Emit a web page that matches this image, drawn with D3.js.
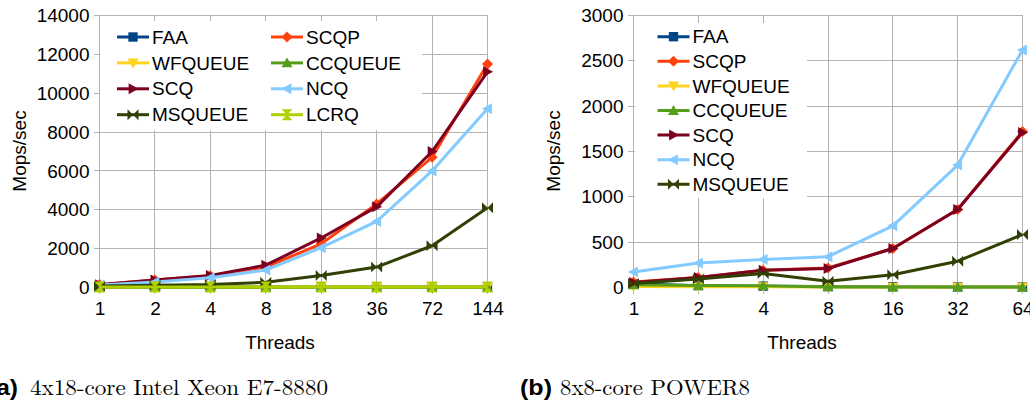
<!DOCTYPE html>
<html>
<head>
<meta charset="utf-8">
<script src="https://cdn.jsdelivr.net/npm/d3@7"></script>
<style>
  body { margin: 0; background: #fff; }
  svg { display: block; }
</style>
</head>
<body>
<svg id="chart" width="1030" height="403" font-family="Liberation Sans, Arial, sans-serif"></svg>
<script>
// ---------- DATA ----------
const seriesNamesA = ["FAA", "SCQP", "WFQUEUE", "CCQUEUE", "SCQ", "NCQ", "MSQUEUE", "LCRQ"];
const threadsA = ["1", "2", "4", "8", "18", "36", "72", "144"];
const faaA      = [30, 25, 25, 25, 25, 25, 25, 25];
const scqpA     = [150, 380, 600, 1050, 2250, 4300, 6700, 11500];
const wfqueueA  = [20, 20, 20, 20, 20, 20, 20, 20];
const ccqueueA  = [20, 15, 15, 15, 15, 15, 15, 15];
const scqA      = [140, 380, 620, 1150, 2550, 4150, 7000, 11100];
const ncqA      = [130, 280, 500, 900, 2050, 3400, 6000, 9200];
const msqueueA  = [80, 110, 150, 270, 620, 1050, 2150, 4100];
const lcrqA     = [30, 30, 30, 30, 30, 30, 30, 30];
const yTicksA   = [0, 2000, 4000, 6000, 8000, 10000, 12000, 14000];

const seriesNamesB = ["FAA", "SCQP", "WFQUEUE", "CCQUEUE", "SCQ", "NCQ", "MSQUEUE"];
const threadsB = ["1", "2", "4", "8", "16", "32", "64"];
const faaB      = [40, 20, 15, 10, 8, 6, 5];
const scqpB     = [60, 110, 190, 215, 430, 860, 1720];
const wfqueueB  = [10, 8, 8, 5, 5, 5, 5];
const ccqueueB  = [30, 22, 20, 6, 5, 5, 5];
const scqB      = [55, 110, 190, 210, 430, 860, 1710];
const ncqB      = [170, 270, 310, 340, 680, 1350, 2620];
const msqueueB  = [45, 95, 155, 70, 140, 290, 585];
const yTicksB   = [0, 500, 1000, 1500, 2000, 2500, 3000];

const captionA = "4x18-core Intel Xeon E7-8880";
const captionB = "8x8-core POWER8";

// ---------- STYLE ----------
const colors = {
  FAA: "#004586", SCQP: "#ff420e", WFQUEUE: "#ffd320", CCQUEUE: "#579d1c",
  SCQ: "#7e0021", NCQ: "#83caff", MSQUEUE: "#314004", LCRQ: "#aecf00"
};
const gridColor = "#b3b3b3";

function markerPath(name, s) {
  const h = s / 2;
  switch (name) {
    case "FAA": return `M${-h*0.85},${-h*0.85}H${h*0.85}V${h*0.85}H${-h*0.85}Z`;
    case "SCQP": return `M0,${-h}L${h},0L0,${h}L${-h},0Z`;
    case "WFQUEUE": return `M${-h},${-h*0.8}L${h},${-h*0.8}L0,${h}Z`;
    case "CCQUEUE": return `M${-h},${h*0.8}L${h},${h*0.8}L0,${-h}Z`;
    case "SCQ": return `M${-h*0.8},${-h}L${h},0L${-h*0.8},${h}Z`;
    case "NCQ": return `M${h*0.8},${-h}L${-h},0L${h*0.8},${h}Z`;
    case "MSQUEUE": return `M${-h},${-h}L0,0L${-h},${h}Z M${h},${-h}L0,0L${h},${h}Z`;
    case "LCRQ": return `M${-h},${-h}L${h},${-h}L0,0Z M${-h},${h}L${h},${h}L0,0Z`;
  }
}

const svg = d3.select("#chart");
svg.append("rect").attr("width", 1030).attr("height", 403).attr("fill", "#fff");

function drawChart(cfg) {
  const g = svg.append("g");
  const x = d3.scalePoint().domain(cfg.cats).range(cfg.xRange);
  const y = d3.scaleLinear().domain([0, d3.max(cfg.yTicks)]).range(cfg.yRange);
  const [x0, x1] = cfg.xRange, [y0, y1] = cfg.yRange;

  // grid
  g.append("g").selectAll("line").data(cfg.yTicks).join("line")
    .attr("x1", x0 - 6).attr("x2", x1).attr("y1", d => y(d)).attr("y2", d => y(d))
    .attr("stroke", gridColor).attr("stroke-width", 1).attr("shape-rendering", "crispEdges");
  g.append("g").selectAll("line").data(cfg.cats).join("line")
    .attr("x1", d => x(d)).attr("x2", d => x(d)).attr("y1", y1).attr("y2", y0 + 6)
    .attr("stroke", gridColor).attr("stroke-width", 1).attr("shape-rendering", "crispEdges");

  // axes labels
  const ax = d3.axisLeft(y).tickValues(cfg.yTicks).tickFormat(d3.format("d")).tickSize(0).tickPadding(10);
  const ga = g.append("g").attr("transform", `translate(${x0},0)`).call(ax);
  ga.attr("font-family", null).attr("font-size", null);
  ga.select(".domain").remove();
  ga.selectAll("text").attr("font-size", 19).attr("fill", "#000");
  const bx = d3.axisBottom(x).tickSize(0).tickPadding(14);
  const gb = g.append("g").attr("transform", `translate(0,${y0})`).call(bx);
  gb.attr("font-family", null).attr("font-size", null);
  gb.select(".domain").remove();
  gb.selectAll("text").attr("font-size", 19).attr("fill", "#000");

  // legend box
  const lg = cfg.legend;
  g.append("rect").attr("x", lg.box[0]).attr("y", lg.box[1])
    .attr("width", lg.box[2]).attr("height", lg.box[3]).attr("fill", "#fff");

  // series
  cfg.series.forEach(s => {
    const line = d3.line().x((d, i) => x(cfg.cats[i])).y(d => y(d));
    g.append("path").datum(s.values).attr("d", line)
      .attr("fill", "none").attr("stroke", colors[s.name]).attr("stroke-width", 3)
      .attr("stroke-linejoin", "round");
    g.append("g").selectAll("path").data(s.values).join("path")
      .attr("transform", (d, i) => `translate(${x(cfg.cats[i])},${y(d)})`)
      .attr("d", markerPath(s.name, 11)).attr("fill", colors[s.name]);
  });

  // legend entries
  cfg.series.forEach((s, i) => {
    const col = i % lg.cols, row = Math.floor(i / lg.cols);
    const lx = lg.x + col * lg.colW, ly = lg.y + row * lg.rowH;
    const e = g.append("g").attr("transform", `translate(${lx},${ly})`);
    e.append("line").attr("x1", 0).attr("x2", 32).attr("y1", 0).attr("y2", 0)
      .attr("stroke", colors[s.name]).attr("stroke-width", 3);
    e.append("path").attr("transform", "translate(16,0)").attr("d", markerPath(s.name, 11))
      .attr("fill", colors[s.name]);
    e.append("text").attr("x", 35).attr("y", 0).attr("dy", "0.35em")
      .attr("font-size", 19).attr("fill", "#000").text(s.name);
  });

  // axis titles
  g.append("text").attr("x", cfg.xTitle[0]).attr("y", cfg.xTitle[1])
    .attr("text-anchor", "middle").attr("font-size", 19).text("Threads");
  g.append("text").attr("transform", `translate(${cfg.yTitle[0]},${cfg.yTitle[1]}) rotate(-90)`)
    .attr("text-anchor", "middle").attr("dy", "0.35em").attr("font-size", 19).text("Mops/sec");
}

drawChart({
  cats: threadsA, yTicks: yTicksA, xRange: [99.5, 487.5], yRange: [287.5, 15.5],
  series: [
    { name: "FAA", values: faaA }, { name: "SCQP", values: scqpA },
    { name: "WFQUEUE", values: wfqueueA }, { name: "CCQUEUE", values: ccqueueA },
    { name: "SCQ", values: scqA }, { name: "NCQ", values: ncqA },
    { name: "MSQUEUE", values: msqueueA }, { name: "LCRQ", values: lcrqA }
  ],
  legend: { box: [100, 21, 322, 109], x: 117, y: 37, cols: 2, colW: 154, rowH: 25.9 },
  xTitle: [280, 349], yTitle: [19, 151]
});

drawChart({
  cats: threadsB, yTicks: yTicksB, xRange: [633.5, 1022.5], yRange: [287.5, 15.5],
  series: [
    { name: "FAA", values: faaB }, { name: "SCQP", values: scqpB },
    { name: "WFQUEUE", values: wfqueueB }, { name: "CCQUEUE", values: ccqueueB },
    { name: "SCQ", values: scqB }, { name: "NCQ", values: ncqB },
    { name: "MSQUEUE", values: msqueueB }
  ],
  legend: { box: [635, 23, 172, 175], x: 657.5, y: 36.7, cols: 1, colW: 0, rowH: 24.6 },
  xTitle: [802, 349], yTitle: [553, 151]
});

// captions
const serif = "Latin Modern Roman, CMU Serif, DejaVu Serif, Liberation Serif, serif";
svg.append("text").attr("x", 18).attr("y", 395).attr("text-anchor", "end")
  .attr("font-size", 22).attr("font-weight", "bold")
  .attr("textLength", 30).attr("lengthAdjust", "spacingAndGlyphs").text("(a)");
svg.append("text").attr("x", 30).attr("y", 395).attr("font-size", 22)
  .attr("font-family", serif)
  .attr("textLength", 298).attr("lengthAdjust", "spacingAndGlyphs").text(captionA);
svg.append("text").attr("x", 520).attr("y", 395).attr("font-size", 22)
  .attr("font-weight", "bold").attr("textLength", 32).attr("lengthAdjust", "spacingAndGlyphs").text("(b)");
svg.append("text").attr("x", 560).attr("y", 395).attr("font-size", 22)
  .attr("font-family", serif)
  .attr("textLength", 190).attr("lengthAdjust", "spacingAndGlyphs").text(captionB);
</script>
</body>
</html>
